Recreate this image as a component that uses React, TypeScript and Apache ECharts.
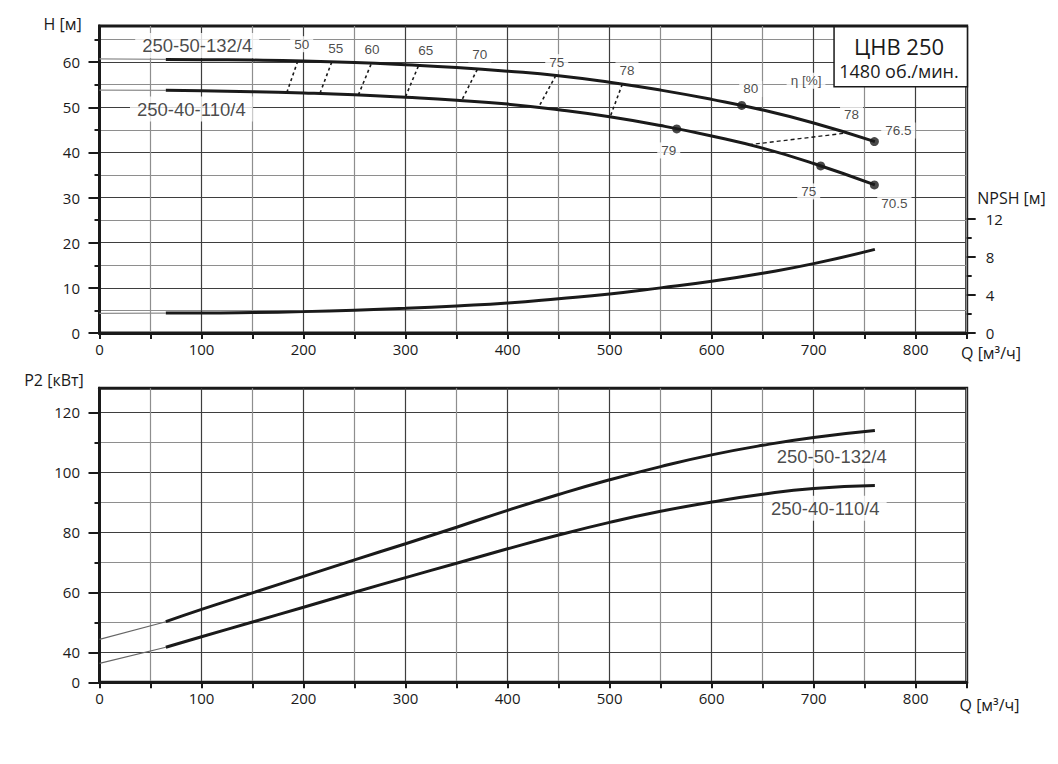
import React, { useEffect, useRef } from 'react';
import * as echarts from 'echarts';

// ---------- data ----------
const flowQ = [65, 100, 150, 200, 250, 300, 350, 400, 450, 500, 550, 600, 650, 700, 760];
const head132 = [60.6, 60.55, 60.45, 60.25, 59.9, 59.4, 58.8, 58.0, 57.0, 55.55, 53.8, 51.75, 49.4, 46.5, 42.4];
const head110 = [53.75, 53.65, 53.45, 53.15, 52.75, 52.2, 51.55, 50.7, 49.45, 47.9, 45.95, 43.65, 40.95, 37.55, 32.8];
const npsh = [2.1, 2.1, 2.15, 2.25, 2.4, 2.6, 2.85, 3.15, 3.6, 4.1, 4.75, 5.45, 6.3, 7.3, 8.8];
const power132 = [50.2, 54.3, 59.8, 65.3, 70.8, 76.2, 81.7, 87.3, 92.6, 97.5, 101.9, 105.8, 109.0, 111.6, 113.9];
const power110 = [41.7, 45.2, 50.1, 55.0, 60.0, 64.9, 69.7, 74.5, 79.1, 83.3, 87.0, 90.1, 92.7, 94.6, 95.6];

// thin extrapolated segments (Q = 0 .. first point)
const extQ = [0, 65];
const head132Ext = [60.7, 60.6];
const head110Ext = [53.8, 53.75];
const npshExt = [2.07, 2.1];
const power132Ext = [44.3, 50.2];
const power110Ext = [36.3, 41.7];

// iso-efficiency lines between the two head curves
const isoEta = ['50', '55', '60', '65', '70', '75', '78'];
const isoTopQ = [194.3, 227.6, 266.1, 312.5, 370.3, 447.2, 512.4];
const isoTopH = [60.2, 60.0, 59.5, 59.1, 58.4, 57.0, 55.1];
const isoBottomQ = [183.5, 216.1, 253.7, 299.5, 355.0, 430.1, 500.4];
const isoBottomH = [53.2, 53.1, 52.7, 52.1, 51.5, 49.9, 47.8];
const isoRightEta = '78';
const isoRightQ = [636.5, 728.8];
const isoRightH = [41.7, 44.2];

// efficiency points on the head curves
const dotEta = ['80', '76.5', '79', '75', '70.5'];
const dotQ = [629.5, 759.5, 565.8, 706.9, 759.5];
const dotH = [50.4, 42.4, 45.2, 37.0, 32.8];

// tick values
const xLabelTicks = [0, 100, 200, 300, 400, 500, 600, 700, 800];
const hAll = [0, 5, 10, 15, 20, 25, 30, 35, 40, 45, 50, 55, 60, 65];
const hMajor = [0, 10, 20, 30, 40, 50, 60];
const pAll = [30, 40, 50, 60, 70, 80, 90, 100, 110, 120];
const pMajor = [30, 40, 60, 80, 100, 120];
const npshMajor = [0, 4, 8, 12];
const npshMinor = [2, 6, 10];

const curveNames = ['250-50-132/4', '250-40-110/4'];
// annotation anchors (data units)
const headNameQ = [95.8, 90.0];
const headNameH = [63.7, 49.6];
const powerNameQ = [717.7, 711.4];
const powerNameP = [105.4, 88.0];
const etaUnitQ = 692.5;
const etaUnitH = 55.9;

// ---------- styles ----------
const INK = '#1a1a1a';
const DARK_GRID = '#3e3e3e';
const LIGHT_GRID = '#8e8e8e';
const TICK_FONT = 'Open Sans';
const ARIAL = 'Liberation Sans';
const isoLabelOffsets = [[4, -17], [4, -13.5], [1, -15], [7.5, -16], [2.5, -15], [1, -13.5], [4.7, -14]];
const dotLabelOffsets = [[9, -16.5], [24, -11], [-8, 21.5], [-12, 25.5], [20, 19]];
const isoRightOffset = [8.5, -19];

const GRID_LEFT = 99.5;
const GRID_WIDTH = 867.2;

const zip = (a: number[], b: number[]) => a.map((v, i) => [v, b[i]]);

function lineSeries(data: number[][], xi: number, yi: number, style: any, extra: any = {}) {
  return {
    type: 'line',
    xAxisIndex: xi,
    yAxisIndex: yi,
    data,
    symbol: 'none',
    silent: true,
    lineStyle: style,
    z: 3,
    ...extra,
  };
}

function textSeries(xi: number, yi: number, items: any[], fontSize: number, fontFamily: string, padding: number[], z: number) {
  return {
    type: 'scatter',
    xAxisIndex: xi,
    yAxisIndex: yi,
    symbolSize: 1,
    silent: true,
    z,
    itemStyle: { color: 'rgba(0,0,0,0)' },
    data: items.map((it) => ({
      value: [it.q, it.v],
      label: { formatter: it.text, offset: it.offset || [0, 0] },
    })),
    label: {
      show: true,
      position: 'inside',
      color: INK,
      fontSize,
      fontFamily,
      backgroundColor: '#ffffff',
      padding,
    },
  };
}

const noZeroLine = { show: false, onZero: false };
const SMOOTH = { smooth: 0.5 };

function xAxis(gridIndex: number) {
  return {
    type: 'value',
    gridIndex,
    min: 0,
    max: 850,
    interval: 50,
    position: 'bottom',
    axisLine: { show: true, onZero: false, lineStyle: { color: INK, width: 3 } },
    axisTick: { show: true, length: 6, lineStyle: { color: INK, width: 2 } },
    axisLabel: {
      formatter: (v: number) => (xLabelTicks.includes(v) ? String(v) : ''),
      margin: 8,
      fontSize: 15,
      fontFamily: TICK_FONT,
      color: INK,
    },
    splitLine: { show: true, lineStyle: { color: [DARK_GRID, LIGHT_GRID], width: 1.2 } },
  };
}

function buildOption() {
  const isoSeries = isoEta.map((_, i) =>
    lineSeries(
      [[isoTopQ[i], isoTopH[i]], [isoBottomQ[i], isoBottomH[i]]],
      0, 0,
      { color: INK, width: 1.6, type: [3, 3] },
      { z: 2 }
    )
  );
  const isoRight = lineSeries(zip(isoRightQ, isoRightH), 0, 0, { color: INK, width: 1.3, type: [4, 3] }, { z: 2 });

  const etaLabels = [
    ...isoEta.map((t, i) => ({ q: isoTopQ[i], v: isoTopH[i], text: t, offset: isoLabelOffsets[i] })),
    { q: isoRightQ[1], v: isoRightH[1], text: isoRightEta, offset: isoRightOffset },
    ...dotEta.map((t, i) => ({ q: dotQ[i], v: dotH[i], text: t, offset: dotLabelOffsets[i] })),
    { q: etaUnitQ, v: etaUnitH, text: 'η [%]' },
  ];

  return {
    animation: false,
    backgroundColor: '#ffffff',
    textStyle: { fontFamily: TICK_FONT, color: INK },
    grid: [
      { left: GRID_LEFT, width: GRID_WIDTH, top: 26, height: 307, show: true, borderColor: INK, borderWidth: 3, outerBoundsMode: 'none' },
      { left: GRID_LEFT, width: GRID_WIDTH, top: 388.3, height: 294, show: true, borderColor: INK, borderWidth: 3, outerBoundsMode: 'none' },
      { left: GRID_LEFT, width: GRID_WIDTH, top: 333 - 13 * 9.5, height: 13 * 9.5, show: false, outerBoundsMode: 'none' },
    ],
    xAxis: [
      xAxis(0),
      xAxis(1),
      { type: 'value', gridIndex: 2, min: 0, max: 850, show: false, axisLine: { onZero: false } },
    ],
    yAxis: [
      {
        type: 'value', gridIndex: 0, min: 0, max: 68, interval: 5, position: 'left',
        axisLine: { show: true, onZero: false, lineStyle: { color: INK, width: 3 } },
        axisTick: { show: true, customValues: hAll, length: 5, lineStyle: { color: INK, width: 2 } },
        axisLabel: { show: false },
        splitLine: { show: true, lineStyle: { color: [DARK_GRID, LIGHT_GRID], width: 1.2 } },
      },
      {
        type: 'value', gridIndex: 0, min: 0, max: 68, position: 'left',
        axisLine: noZeroLine,
        axisTick: { show: true, customValues: hMajor, length: 11, lineStyle: { color: INK, width: 2 } },
        axisLabel: { customValues: hMajor, margin: 19.5, fontSize: 15, fontFamily: TICK_FONT, color: INK },
        splitLine: { show: false },
      },
      {
        type: 'value', gridIndex: 1, min: 30, max: 128, interval: 10, position: 'left',
        axisLine: { show: true, onZero: false, lineStyle: { color: INK, width: 3 } },
        axisTick: { show: true, customValues: pAll, length: 5, lineStyle: { color: INK, width: 2 } },
        axisLabel: { show: false },
        splitLine: { show: true, lineStyle: { color: [LIGHT_GRID, DARK_GRID], width: 1.2 } },
      },
      {
        type: 'value', gridIndex: 1, min: 30, max: 128, position: 'left',
        axisLine: noZeroLine,
        axisTick: { show: true, customValues: pMajor, length: 11, lineStyle: { color: INK, width: 2 } },
        axisLabel: {
          customValues: pMajor, margin: 19.5, fontSize: 15, fontFamily: TICK_FONT, color: INK,
          formatter: (v: number) => (v === 30 ? '0' : String(v)),
        },
        splitLine: { show: false },
      },
      {
        type: 'value', gridIndex: 2, min: 0, max: 13, position: 'right',
        axisLine: noZeroLine,
        axisTick: { show: true, customValues: npshMajor, length: 9, lineStyle: { color: INK, width: 2 } },
        axisLabel: { customValues: npshMajor, margin: 19, fontSize: 15, fontFamily: TICK_FONT, color: INK },
        splitLine: { show: false },
      },
      {
        type: 'value', gridIndex: 2, min: 0, max: 13, position: 'right',
        axisLine: noZeroLine,
        axisTick: { show: true, customValues: npshMinor, length: 5, lineStyle: { color: INK, width: 2 } },
        axisLabel: { show: false },
        splitLine: { show: false },
      },
    ],
    series: [
      // head curves
      lineSeries(zip(extQ, head132Ext), 0, 0, { color: LIGHT_GRID, width: 1.3 }),
      lineSeries(zip(flowQ, head132), 0, 0, { color: INK, width: 3 }, SMOOTH),
      lineSeries(zip(extQ, head110Ext), 0, 0, { color: LIGHT_GRID, width: 1.3 }),
      lineSeries(zip(flowQ, head110), 0, 0, { color: INK, width: 3 }, SMOOTH),
      ...isoSeries,
      isoRight,
      {
        type: 'scatter', xAxisIndex: 0, yAxisIndex: 0, symbolSize: 9, silent: true, z: 4,
        itemStyle: { color: INK },
        data: zip(dotQ, dotH),
      },
      textSeries(0, 0, etaLabels, 13.5, ARIAL, [1, 4], 2.5),
      textSeries(0, 0, curveNames.map((t, i) => ({ q: headNameQ[i], v: headNameH[i], text: t })), 18.5, ARIAL, [3, 7], 1),
      // NPSH
      lineSeries(zip(extQ, npshExt), 2, 4, { color: LIGHT_GRID, width: 1.3 }),
      lineSeries(zip(flowQ, npsh), 2, 4, { color: INK, width: 3 }, SMOOTH),
      // power
      lineSeries(zip(extQ, power132Ext), 1, 2, { color: '#666666', width: 1.1 }),
      lineSeries(zip(flowQ, power132), 1, 2, { color: INK, width: 3 }, SMOOTH),
      lineSeries(zip(extQ, power110Ext), 1, 2, { color: '#666666', width: 1.1 }),
      lineSeries(zip(flowQ, power110), 1, 2, { color: INK, width: 3 }, SMOOTH),
      textSeries(1, 2, curveNames.map((t, i) => ({ q: powerNameQ[i], v: powerNameP[i], text: t })), 18.5, ARIAL, [3, 7], 1),
    ],
    graphic: [
      {
        type: 'rect', left: 833.3, top: 26, z: 10,
        shape: { width: 133.4, height: 60 },
        style: { fill: '#ffffff', stroke: INK, lineWidth: 1.5 },
      },
      {
        type: 'text', x: 899, y: 46, z: 11,
        style: { text: 'ЦНВ 250', font: '22px "Open Sans"', fill: INK, textAlign: 'center', textVerticalAlign: 'middle' },
      },
      {
        type: 'text', x: 899, y: 71, z: 11,
        style: { text: '1480 об./мин.', font: '18px "Open Sans"', fill: INK, textAlign: 'center', textVerticalAlign: 'middle' },
      },
      {
        type: 'text', x: 62.7, y: 24,
        style: { text: 'H [м]', font: '16px "Open Sans"', fill: INK, textAlign: 'center', textVerticalAlign: 'middle' },
      },
      {
        type: 'text', x: 54, y: 380,
        style: { text: 'P2 [кВт]', font: '16px "Open Sans"', fill: INK, textAlign: 'center', textVerticalAlign: 'middle' },
      },
      {
        type: 'text', x: 1011.5, y: 198,
        style: { text: 'NPSH [м]', font: '16px "Open Sans"', fill: INK, textAlign: 'center', textVerticalAlign: 'middle' },
      },
      {
        type: 'text', x: 991, y: 353,
        style: { text: 'Q [м³/ч]', font: '16px "Open Sans"', fill: INK, textAlign: 'center', textVerticalAlign: 'middle' },
      },
      {
        type: 'text', x: 989.5, y: 705,
        style: { text: 'Q [м³/ч]', font: '16px "Open Sans"', fill: INK, textAlign: 'center', textVerticalAlign: 'middle' },
      },
    ],
  };
}

export default function App() {
  const ref = useRef<HTMLDivElement>(null);
  useEffect(() => {
    document.body.style.margin = '0';
    if (!ref.current) return;
    const chart = echarts.init(ref.current, null, { renderer: 'svg' });
    chart.setOption(buildOption() as any);
    return () => chart.dispose();
  }, []);
  return <div ref={ref} style={{ width: 1058, height: 764 }} />;
}
